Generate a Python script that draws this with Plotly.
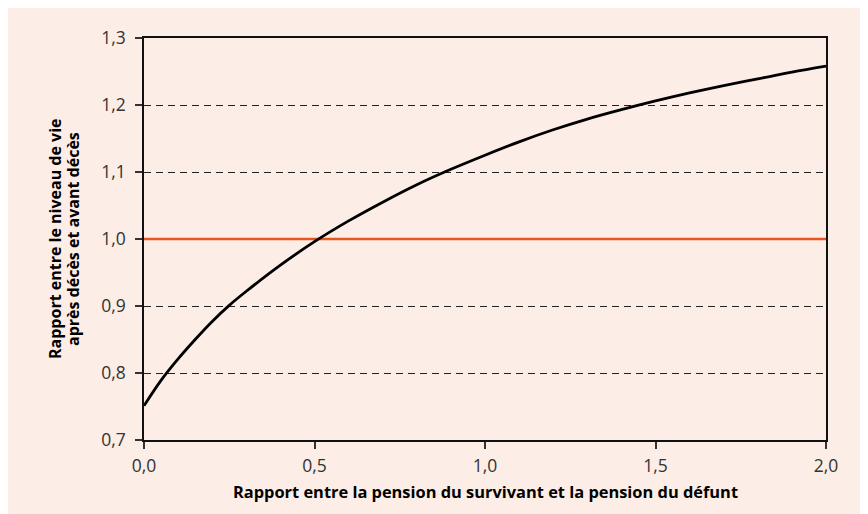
import plotly.graph_objects as go

# Data
pension_ratio = [0.0, 0.05, 0.1, 0.15, 0.2, 0.25, 0.3, 0.4, 0.5, 0.6, 0.7, 0.8, 0.9,
                 1.0, 1.1, 1.2, 1.3, 1.4, 1.5, 1.6, 1.7, 1.8, 1.9, 2.0]
living_ratio = [0.751, 0.789, 0.821, 0.850, 0.877, 0.901, 0.922, 0.961, 0.996, 1.027,
                1.055, 1.081, 1.104, 1.125, 1.145, 1.163, 1.179, 1.193, 1.206, 1.218,
                1.229, 1.239, 1.249, 1.258]
ref_x = [0.0, 2.0]
ref_y = [1.0, 1.0]

x_title = "Rapport entre la pension du survivant et la pension du défunt"
y_title_lines = ["Rapport entre le niveau de vie", "après décès et avant décès"]

FONT = "Open Sans"
BG = "#FCEDE6"

fig = go.Figure()
fig.add_trace(go.Scatter(x=ref_x, y=ref_y, mode="lines",
                         line=dict(color="#E8561F", width=2.5),
                         hoverinfo="skip", showlegend=False))
fig.add_trace(go.Scatter(x=pension_ratio, y=living_ratio, mode="lines",
                         line=dict(color="#000000", width=2.8, shape="spline",
                                   smoothing=1.0),
                         showlegend=False))

W, H = 860, 506
L, R, T, B = 136, 42, 30, 74
pw, ph = W - L - R, H - T - B

def px_to_paper_x(px):
    return (px - L) / pw

def px_to_paper_y(py):
    return (H - B - py) / ph

for cx, line in zip([47, 65], y_title_lines):
    fig.add_annotation(xref="paper", yref="paper", x=px_to_paper_x(cx), y=0.5,
                       text="<b>" + line + "</b>", textangle=-90, showarrow=False,
                       font=dict(family=FONT, size=16, color="#000"),
                       xanchor="center", yanchor="middle")
fig.add_annotation(xref="paper", yref="paper", x=0.5, y=px_to_paper_y(483),
                   text="<b>" + x_title + "</b>", showarrow=False,
                   font=dict(family=FONT, size=16.4, color="#000"),
                   xanchor="center", yanchor="middle")

fig.update_layout(
    width=W, height=H,
    margin=dict(l=L, r=R, t=T, b=B),
    paper_bgcolor=BG,
    plot_bgcolor=BG,
    separators=", ",
    font=dict(family=FONT, size=17.5, color="#333"),
    xaxis=dict(range=[0, 2], tickvals=[0, 0.5, 1.0, 1.5, 2.0], tickformat=".1f",
               showgrid=False, zeroline=False,
               showline=True, linecolor="#111", linewidth=1.5, mirror=True,
               ticks="outside", ticklen=7, tickcolor="#333", tickwidth=1.5,
               ticklabelstandoff=2),
    yaxis=dict(range=[0.7, 1.3], tickvals=[0.7, 0.8, 0.9, 1.0, 1.1, 1.2, 1.3],
               tickformat=".1f",
               showgrid=True, gridcolor="#222", gridwidth=1, griddash="7px,5px",
               zeroline=False,
               showline=True, linecolor="#111", linewidth=1.5, mirror=True,
               ticks="outside", ticklen=7, tickcolor="#333", tickwidth=1.5,
               ticklabelstandoff=6),
)

fig.write_html("out.html")
